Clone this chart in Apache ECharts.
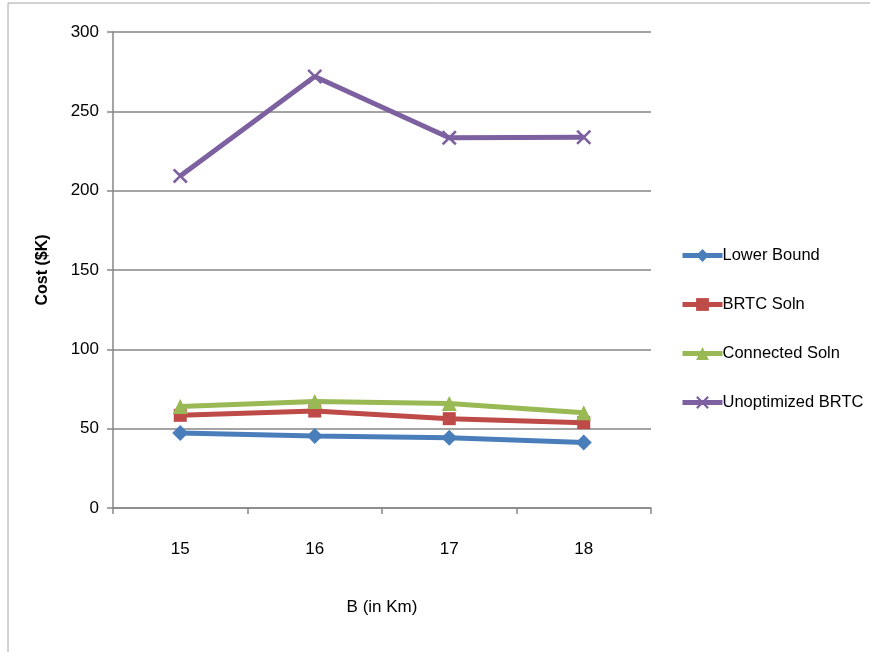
<!DOCTYPE html>
<html><head><meta charset="utf-8">
<script src="https://cdn.jsdelivr.net/npm/echarts@6/dist/echarts.min.js"></script>
<style>html,body{margin:0;padding:0;background:#fff}#c{width:870px;height:652px}</style>
</head><body><div id="c"></div>
<script>
const categories = ['15', '16', '17', '18'];
const lowerBound = [47.2, 45.3, 44.3, 41.3];
const brtcSoln = [58.4, 61.1, 56.3, 53.8];
const connectedSoln = [64.0, 67.1, 65.8, 60.1];
const unoptimizedBrtc = [209.3, 272.0, 233.3, 233.7];
const seriesNames = ['Lower Bound', 'BRTC Soln', 'Connected Soln', 'Unoptimized BRTC'];

const FONT = '"Liberation Sans Narrow", "Liberation Sans", sans-serif';
const xPath = 'path://M0,1.2L1.2,0L5,3.8L8.8,0L10,1.2L6.2,5L10,8.8L8.8,10L5,6.2L1.2,10L0,8.8L3.8,5Z';

function mk(name, data, color, symbol, size) {
  return {
    name, type: 'line', data, symbol, symbolSize: size, showSymbol: true,
    lineStyle: { color, width: 5 },
    itemStyle: { color },
    emphasis: { disabled: true }
  };
}

const chart = echarts.init(document.getElementById('c'));
chart.setOption({
  animation: false,
  backgroundColor: '#fff',
  graphic: [{ type: 'rect', shape: { x: 8, y: 3, width: 900, height: 700 }, style: { fill: 'none', stroke: '#a6a6a6', lineWidth: 1 } }],
  grid: { left: 113, right: 219, top: 32, bottom: 144 },
  xAxis: {
    type: 'category', data: categories, boundaryGap: true,
    name: 'B (in Km)', nameLocation: 'middle', nameGap: 91,
    nameTextStyle: { fontFamily: FONT, fontSize: 17, color: '#000' },
    axisLine: { lineStyle: { color: '#868686', width: 1.5 } },
    axisTick: { show: true, length: 6, inside: false, alignWithLabel: false, lineStyle: { color: '#868686', width: 1.5 } },
    axisLabel: { fontFamily: FONT, fontSize: 17, color: '#000', margin: 33 },
    splitLine: { show: false }
  },
  yAxis: {
    type: 'value', min: 0, max: 300, interval: 50,
    name: 'Cost ($K)', nameLocation: 'middle', nameGap: 62, nameRotate: 90,
    nameTextStyle: { fontFamily: '"Liberation Sans", sans-serif', fontWeight: 'bold', fontSize: 16, color: '#000' },
    axisLine: { show: true, lineStyle: { color: '#868686', width: 1.5 } },
    axisTick: { show: true, length: 6, lineStyle: { color: '#868686', width: 1.5 } },
    axisLabel: { fontFamily: FONT, fontSize: 17, color: '#000', margin: 14 },
    splitLine: { show: true, lineStyle: { color: '#868686', width: 1.5 } }
  },
  legend: {
    orient: 'vertical', left: 680, top: 247, itemGap: 32, padding: 0,
    itemWidth: 40, itemHeight: 16,
    lineStyle: { width: 5 },
    textStyle: { fontFamily: FONT, fontSize: 16.5, color: '#000', padding: [0, 0, 0, -5] },
    data: seriesNames
  },
  series: [
    mk(seriesNames[0], lowerBound, '#4A7EBB', 'diamond', 16),
    mk(seriesNames[1], brtcSoln, '#BE4B48', 'rect', 13),
    mk(seriesNames[2], connectedSoln, '#98B954', 'triangle', 15),
    mk(seriesNames[3], unoptimizedBrtc, '#7D60A0', xPath, 15)
  ]
});
</script></body></html>
